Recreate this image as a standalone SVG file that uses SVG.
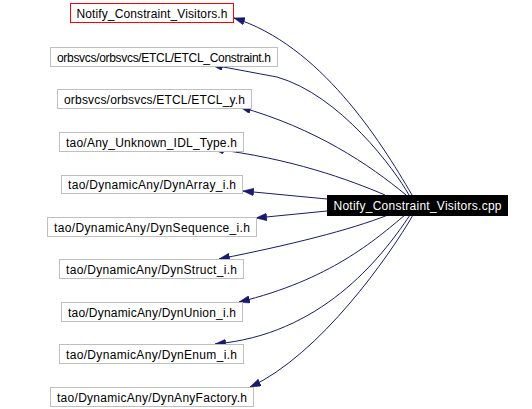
<svg xmlns="http://www.w3.org/2000/svg" width="532" height="409" viewBox="0 0 532 409">
<style>
text{font-family:"Liberation Sans",Arial,sans-serif;font-size:12px;text-anchor:middle;fill:#000}
.n rect{fill:#fff;stroke:#bfbfbf;stroke-width:1}
#hdr rect{stroke:#ff0000}
#main rect{fill:#000;stroke:#000}
#main text{fill:#fff}
.e path{fill:none;stroke:#191970;stroke-width:1;marker-end:url(#ah)}
</style>
<defs>
<marker id="ah" viewBox="0 0 10 7" refX="10" refY="3.5" markerWidth="11" markerHeight="7.5" markerUnits="userSpaceOnUse" orient="auto">
<path d="M0,0 L10,3.5 L0,7 z" fill="#191970" stroke="#191970" stroke-width="0.5"/>
</marker>
</defs>
<rect width="532" height="409" fill="#fff"/>
<g class="e" id="edges">
<path d="M412,195 C380,140 320,45 234,18"/>
<path d="M409,195 C395,170 340,95 277,77 C255,73 235,69 212,65"/>
<path d="M406,195 C370,165 315,128 240,107"/>
<path d="M385,195 C350,180 290,158 213,149"/>
<path d="M327,199 L243,191"/>
<path d="M327,211 L256,218"/>
<path d="M388,215 C350,230 290,245 219,259"/>
<path d="M405,215 C375,240 330,280 239,302"/>
<path d="M410,215 C380,260 320,335 215,344"/>
<path d="M413,215 C390,255 320,355 250,387"/>
</g>
<g class="n" id="hdr"><rect x="70.5" y="3.5" width="163" height="19"/><text x="152" y="17.5" textLength="151">Notify_Constraint_Visitors.h</text></g>
<g class="n" id="etcl_constraint"><rect x="50.5" y="47.5" width="227" height="19"/><text x="164" y="61.5" textLength="214">orbsvcs/orbsvcs/ETCL/ETCL_Constraint.h</text></g>
<g class="n" id="etcl_y"><rect x="57.5" y="89.5" width="194" height="19"/><text x="154.5" y="103.5" textLength="181">orbsvcs/orbsvcs/ETCL/ETCL_y.h</text></g>
<g class="n" id="any_unknown"><rect x="59.5" y="132.5" width="184" height="19"/><text x="151.5" y="146.5" textLength="171">tao/Any_Unknown_IDL_Type.h</text></g>
<g class="n" id="dynarray"><rect x="61.5" y="175.5" width="181" height="18"/><text x="152" y="189" textLength="168">tao/DynamicAny/DynArray_i.h</text></g>
<g class="n" id="dynsequence"><rect x="47.5" y="217.5" width="209" height="19"/><text x="152" y="231.5" textLength="196">tao/DynamicAny/DynSequence_i.h</text></g>
<g class="n" id="dynstruct"><rect x="59.5" y="259.5" width="184" height="19"/><text x="151.5" y="273.5" textLength="171">tao/DynamicAny/DynStruct_i.h</text></g>
<g class="n" id="dynunion"><rect x="61.5" y="302.5" width="181" height="19"/><text x="152" y="316.5" textLength="168">tao/DynamicAny/DynUnion_i.h</text></g>
<g class="n" id="dynenum"><rect x="59.5" y="344.5" width="184" height="19"/><text x="151.5" y="358.5" textLength="171">tao/DynamicAny/DynEnum_i.h</text></g>
<g class="n" id="dynanyfactory"><rect x="50.5" y="387.5" width="203" height="19"/><text x="152" y="401.5" textLength="190">tao/DynamicAny/DynAnyFactory.h</text></g>
<g class="n" id="main"><rect x="327.5" y="195.5" width="180" height="20"/><text x="417.5" y="210" textLength="168">Notify_Constraint_Visitors.cpp</text></g>
</svg>
